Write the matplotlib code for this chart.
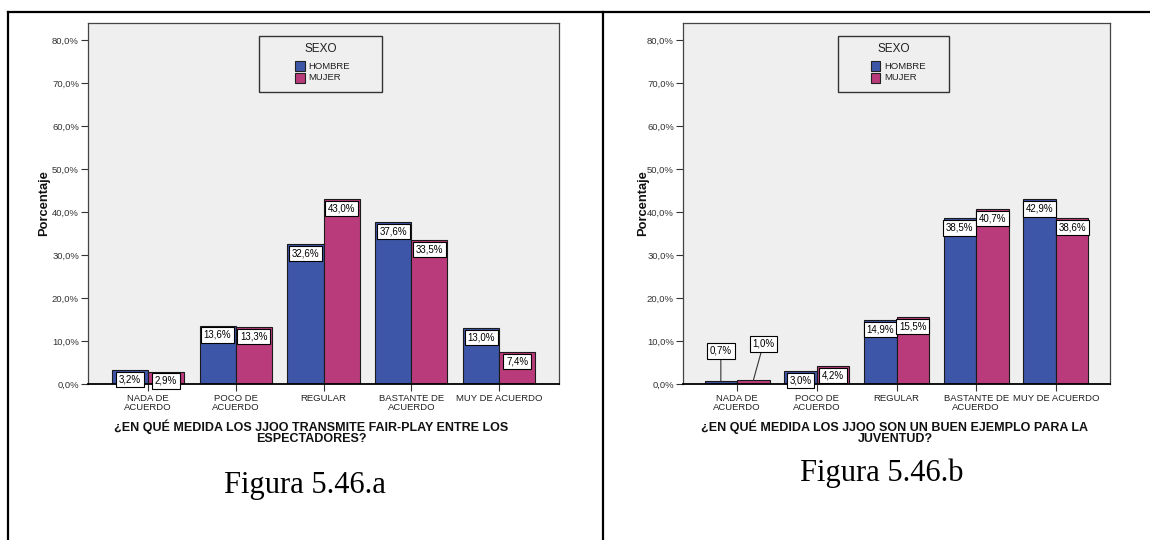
import matplotlib
matplotlib.use('Agg')
import matplotlib.pyplot as plt
from matplotlib.patches import Rectangle
from matplotlib.lines import Line2D
import numpy as np

plt.rcParams['font.family'] = ['Liberation Sans', 'DejaVu Sans']

# datos
categorias = ['NADA DE\nACUERDO', 'POCO DE\nACUERDO', 'REGULAR',
              'BASTANTE DE\nACUERDO', 'MUY DE ACUERDO']
sexos = ['HOMBRE', 'MUJER']

hombre_a = [3.2, 13.6, 32.6, 37.6, 13.0]
mujer_a = [2.9, 13.3, 43.0, 33.5, 7.4]

hombre_b = [0.7, 3.0, 14.9, 38.5, 42.9]
mujer_b = [1.0, 4.2, 15.5, 40.7, 38.6]

pregunta_a = '¿EN QUÉ MEDIDA LOS JJOO TRANSMITE FAIR-PLAY ENTRE LOS\nESPECTADORES?'
pregunta_b = '¿EN QUÉ MEDIDA LOS JJOO SON UN BUEN EJEMPLO PARA LA\nJUVENTUD?'

y_ticks = [0, 10, 20, 30, 40, 50, 60, 70, 80]

AZUL = '#3E56A8'
ROSA = '#BA3B7B'
FONDO = '#EFEFEF'

W, H = 1150, 540


def pct(v):
    return '{:.1f}%'.format(v).replace('.', ',')


def dibujar_panel(ax, hombre, mujer, callouts=None):
    x = np.arange(len(categorias))
    ancho = 0.41
    barras_h = ax.bar(x - ancho / 2, hombre, ancho, color=AZUL, edgecolor='#1a1a1a', linewidth=0.8, zorder=2)
    barras_m = ax.bar(x + ancho / 2, mujer, ancho, color=ROSA, edgecolor='#1a1a1a', linewidth=0.8, zorder=2)

    caja = dict(boxstyle='square,pad=0.28', fc='white', ec='black', lw=0.8)
    for serie, barras, desp in [(0, barras_h, -ancho / 2), (1, barras_m, ancho / 2)]:
        vals = hombre if serie == 0 else mujer
        for i, v in enumerate(vals):
            xc = x[i] + desp
            if callouts and (serie, i) in callouts:
                dx, ty = callouts[(serie, i)]
                ax.annotate(pct(v), xy=(xc, v), xytext=(xc + dx, ty),
                            ha='center', va='center', fontsize=7, bbox=caja, zorder=5,
                            arrowprops=dict(arrowstyle='-', color='#333333', lw=0.8,
                                            shrinkA=0, shrinkB=0))
            else:
                ax.annotate(pct(v), xy=(xc, v), xytext=(0, -3.2), textcoords='offset points',
                            ha='center', va='top', fontsize=7, bbox=caja, zorder=5)

    ax.set_facecolor(FONDO)
    ax.set_xlim(-0.68, 4.68)
    ax.set_ylim(0, 84)
    ax.set_yticks(y_ticks)
    ax.set_yticklabels([pct(t) for t in y_ticks], fontsize=6.8, color='#333333')
    ax.set_xticks(x)
    ax.set_xticklabels(categorias, fontsize=6.8, color='#222222', linespacing=0.9)
    ax.tick_params(axis='both', direction='out', length=5, width=0.8, color='#333333')
    ax.tick_params(axis='x', pad=2.5)
    ax.tick_params(axis='y', pad=1.5)
    for lado in ['top', 'right', 'left']:
        ax.spines[lado].set_color('#444444')
        ax.spines[lado].set_linewidth(0.9)
    ax.spines['bottom'].set_color('black')
    ax.spines['bottom'].set_linewidth(1.3)

    # leyenda SEXO dibujada a mano
    ax.add_patch(Rectangle((0.363, 0.808), 0.261, 0.155, transform=ax.transAxes,
                           fc=FONDO, ec='#333333', lw=1.0, zorder=6))
    ax.text(0.4935, 0.927, 'SEXO', transform=ax.transAxes, ha='center', va='center',
            fontsize=8.5, color='#222222', zorder=7)
    ancho_px = ax.get_position().width * W
    pw = 9.5 / ancho_px
    ph = 10.0 / (ax.get_position().height * H)
    for k, (nombre, color) in enumerate(zip(sexos, [AZUL, ROSA])):
        yc = 0.880 - k * 0.032
        ax.add_patch(Rectangle((0.440, yc - ph / 2), pw, ph, transform=ax.transAxes,
                               fc=color, ec='#222222', lw=0.8, zorder=7))
        ax.text(0.440 + pw + 3.5 / ancho_px, yc, nombre, transform=ax.transAxes,
                ha='left', va='center', fontsize=6.8, color='#222222', zorder=7)


fig = plt.figure(figsize=(W / 100, H / 100), dpi=100)

ax1 = fig.add_axes([88 / W, (H - 384) / H, 471 / W, 361.3 / H])
ax2 = fig.add_axes([683 / W, (H - 384) / H, 427 / W, 361.3 / H])

dibujar_panel(ax1, hombre_a, mujer_a)
dibujar_panel(ax2, hombre_b, mujer_b, callouts={(0, 0): (0.0, 7.7), (1, 0): (0.125, 9.35)})

# titulos de eje
fig.text(311 / W, 1 - 419 / H, pregunta_a, ha='center', va='top', fontsize=9,
         fontweight='bold', linespacing=0.95, color='#111111')
fig.text(895 / W, 1 - 419 / H, pregunta_b, ha='center', va='top', fontsize=9,
         fontweight='bold', linespacing=0.95, color='#111111')
fig.text(44 / W, 1 - 203 / H, 'Porcentaje', rotation=90, ha='center', va='center',
         fontsize=9.3, fontweight='bold', color='#111111')
fig.text(643 / W, 1 - 203 / H, 'Porcentaje', rotation=90, ha='center', va='center',
         fontsize=9.3, fontweight='bold', color='#111111')

# pies de figura
fig.text(305 / W, 1 - 485 / H, 'Figura 5.46.a', ha='center', va='center',
         fontsize=22, family='Liberation Serif')
fig.text(882 / W, 1 - 473 / H, 'Figura 5.46.b', ha='center', va='center',
         fontsize=22, family='Liberation Serif')

# marco de la tabla
fig.add_artist(Line2D([8 / W, 1.0], [1 - 12 / H, 1 - 12 / H], color='black', lw=1.6))
fig.add_artist(Line2D([8 / W, 8 / W], [0, 1 - 12 / H], color='black', lw=1.6))
fig.add_artist(Line2D([603 / W, 603 / W], [0, 1 - 12 / H], color='black', lw=1.6))

fig.savefig('out.png', dpi=100)
